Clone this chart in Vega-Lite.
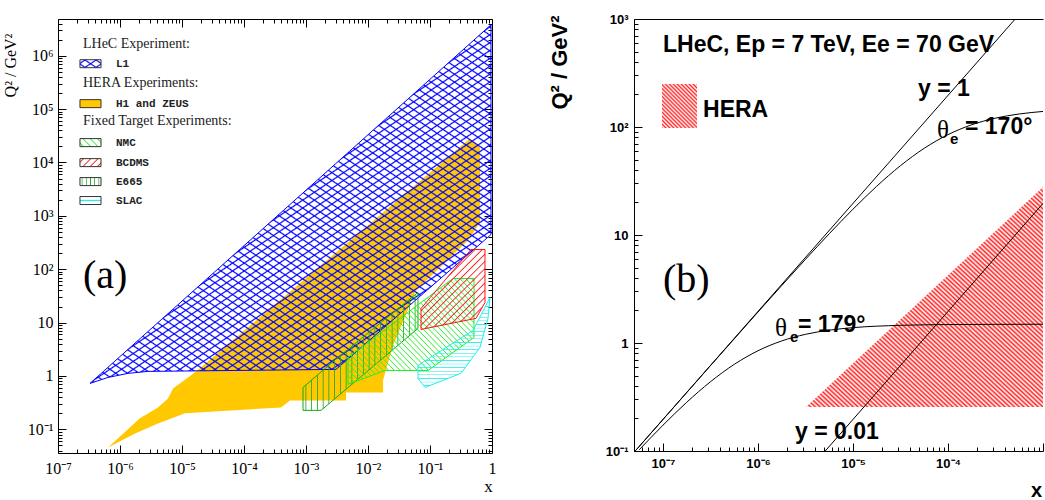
{
"$schema":"https://vega.github.io/schema/vega-lite/v6.json",
"background":"white",
"padding":{"left":2,"top":13,"right":0,"bottom":0},
"spacing":142,
"bounds":"flush",
"config":{"view":{"stroke":null},"axis":{"grid":false,"domainColor":"#000","tickColor":"#000","labelColor":"#000","titleColor":"#000","labelFlush":false,"labelOverlap":false,"labelBound":false,"tickWidth":1,"domainWidth":1}},
"datasets":{
"orange":[{"i":1,"x":0.4416,"q":28000},{"i":2,"x":0.64,"q":19000},{"i":3,"x":0.64,"q":748},{"i":4,"x":0.41,"q":345},{"i":5,"x":0.0594,"q":40},{"i":6,"x":0.0253,"q":3.73},{"i":7,"x":0.0175,"q":0.83},{"i":8,"x":0.0175,"q":0.493},{"i":9,"x":0.00442,"q":0.493},{"i":10,"x":0.00442,"q":0.349},{"i":11,"x":0.000552,"q":0.349},{"i":12,"x":0.000395,"q":0.258},{"i":13,"x":1.12e-5,"q":0.2},{"i":14,"x":4.1e-6,"q":0.129},{"i":15,"x":1.75e-6,"q":0.084},{"i":16,"x":6.4e-7,"q":0.046},{"i":17,"x":2.1e-6,"q":0.161},{"i":18,"x":4.1e-6,"q":0.258},{"i":19,"x":5.94e-6,"q":0.38},{"i":20,"x":7.16e-6,"q":0.586},{"i":21,"x":1.4e-5,"q":1.03},{"i":22,"x":2.02e-5,"q":1.45}],
"l1":[{"i":1,"x":3.28e-7,"q":0.726},{"i":2,"x":6.4e-7,"q":0.94},{"i":3,"x":1.35e-6,"q":1.12},{"i":4,"x":2.83e-6,"q":1.22},{"i":5,"x":0.00305,"q":1.33},{"i":6,"x":0.964,"q":447},{"i":7,"x":0.964,"q":3800000}],
"e665":[{"i":1,"x":0.000895,"q":0.611},{"i":2,"x":0.00328,"q":2.23},{"i":3,"x":0.064,"q":36.7},{"i":4,"x":0.064,"q":7.78},{"i":5,"x":0.00175,"q":0.227},{"i":6,"x":0.000895,"q":0.227}],
"nmc":[{"i":1,"x":0.00475,"q":2.23},{"i":2,"x":0.235,"q":67},{"i":3,"x":0.513,"q":67},{"i":4,"x":0.513,"q":5.27},{"i":5,"x":0.0929,"q":1.27},{"i":6,"x":0.0188,"q":1.27},{"i":7,"x":0.00475,"q":0.695}],
"bcdms":[{"i":1,"x":0.0716,"q":18.4},{"i":2,"x":0.458,"q":234},{"i":3,"x":0.771,"q":234},{"i":4,"x":0.771,"q":23.8},{"i":5,"x":0.552,"q":12},{"i":6,"x":0.262,"q":10.1},{"i":7,"x":0.0716,"q":7.45}],
"slac":[{"i":1,"x":0.064,"q":1.58},{"i":2,"x":0.135,"q":2.76},{"i":3,"x":0.494,"q":7.13},{"i":4,"x":0.929,"q":29.6},{"i":5,"x":0.861,"q":12},{"i":6,"x":0.64,"q":3.43},{"i":7,"x":0.316,"q":1.12},{"i":8,"x":0.083,"q":0.611},{"i":9,"x":0.064,"q":0.9}],
"hera":[{"i":1,"x":3.2e-6,"q":0.2555},{"i":2,"x":0.001,"q":27.8},{"i":3,"x":0.001,"q":0.2555}],
"curves":[{"c":"y1","x":5.1e-8,"q":0.1},{"c":"y1","x":0.00051,"q":1000},
{"c":"t170","x":5.25e-8,"q":0.1028},{"c":"t170","x":1e-7,"q":0.1957},{"c":"t170","x":3.162e-7,"q":0.6172},{"c":"t170","x":1e-6,"q":1.935},{"c":"t170","x":1.778e-6,"q":3.406},{"c":"t170","x":3.162e-6,"q":5.952},{"c":"t170","x":5.623e-6,"q":10.27},{"c":"t170","x":1e-5,"q":17.34},{"c":"t170","x":1.778e-5,"q":28.28},{"c":"t170","x":3.162e-5,"q":43.86},{"c":"t170","x":5.623e-5,"q":63.53},{"c":"t170","x":1e-4,"q":84.97},{"c":"t170","x":1.778e-4,"q":104.9},{"c":"t170","x":3.162e-4,"q":120.8},{"c":"t170","x":5.623e-4,"q":132},{"c":"t170","x":0.001,"q":139.3},
{"c":"t179","x":5.623e-8,"q":0.1026},{"c":"t179","x":1e-7,"q":0.1733},{"c":"t179","x":1.778e-7,"q":0.2825},{"c":"t179","x":3.162e-7,"q":0.438},{"c":"t179","x":5.623e-7,"q":0.634},{"c":"t179","x":1e-6,"q":0.8474},{"c":"t179","x":1.778e-6,"q":1.0451},{"c":"t179","x":3.162e-6,"q":1.203},{"c":"t179","x":5.623e-6,"q":1.3146},{"c":"t179","x":1e-5,"q":1.3871},{"c":"t179","x":3.162e-5,"q":1.4576},{"c":"t179","x":1e-4,"q":1.4814},{"c":"t179","x":3.162e-4,"q":1.4891},{"c":"t179","x":0.001,"q":1.4916},
{"c":"y001","x":5.1e-6,"q":0.1},{"c":"y001","x":0.001,"q":19.6}]
},
"hconcat":[
{
"width":434,"height":434,
"resolve":{"axis":{"x":"independent","y":"independent"}},
"layer":[
{"data":{"name":"orange"},"mark":{"type":"line","interpolate":"linear-closed","fill":"#ffc800","stroke":"transparent"},
"encoding":{
"x":{"field":"x","type":"quantitative","scale":{"type":"log","domain":[1e-7,1],"nice":false},
"axis":{"orient":"bottom","values":[1e-7,2e-7,3e-7,4e-7,5e-7,6e-7,7e-7,8e-7,9e-7,1e-6,2e-6,3e-6,4e-6,5e-6,6e-6,7e-6,8e-6,9e-6,1e-5,2e-5,3e-5,4e-5,5e-5,6e-5,7e-5,8e-5,9e-5,1e-4,2e-4,3e-4,4e-4,5e-4,6e-4,7e-4,8e-4,9e-4,0.001,0.002,0.003,0.004,0.005,0.006,0.007,0.008,0.009,0.01,0.02,0.03,0.04,0.05,0.06,0.07,0.08,0.09,0.1,0.2,0.3,0.4,0.5,0.6,0.7,0.8,0.9,1],
"labelExpr":"abs(log(datum.value)/LN10-round(log(datum.value)/LN10))<0.01 ? ['10⁻⁷','10⁻⁶','10⁻⁵','10⁻⁴','10⁻³','10⁻²','10⁻¹','1'][round(log(datum.value)/LN10)+7] : ''",
"tickSize":{"condition":{"test":"abs(log(datum.value)/LN10-round(log(datum.value)/LN10))<0.01","value":-8},"value":-4},
"labelPadding":15,"labelFont":"Liberation Serif","labelFontSize":16,"labelFontWeight":"normal",
"title":"x","titleFont":"Liberation Serif","titleFontSize":17,"titleFontWeight":"normal","titleX":430,"titleY":33,"titleAlign":"center","titleBaseline":"middle"}},
"y":{"field":"q","type":"quantitative","scale":{"type":"log","domain":[0.0361,4870000],"nice":false},
"axis":{"orient":"left","values":[0.04,0.05,0.06,0.07,0.08,0.09,0.1,0.2,0.3,0.4,0.5,0.6,0.7,0.8,0.9,1,2,3,4,5,6,7,8,9,10,20,30,40,50,60,70,80,90,100,200,300,400,500,600,700,800,900,1000,2000,3000,4000,5000,6000,7000,8000,9000,10000,20000,30000,40000,50000,60000,70000,80000,90000,100000,200000,300000,400000,500000,600000,700000,800000,900000,1000000,2000000,3000000,4000000],
"labelExpr":"abs(log(datum.value)/LN10-round(log(datum.value)/LN10))<0.01 ? ['10⁻¹','1','10','10²','10³','10⁴','10⁵','10⁶'][round(log(datum.value)/LN10)+1] : ''",
"tickSize":{"condition":{"test":"abs(log(datum.value)/LN10-round(log(datum.value)/LN10))<0.01","value":-8},"value":-4},
"labelPadding":13,"labelFont":"Liberation Serif","labelFontSize":16,"labelFontWeight":"normal",
"title":"Q² / GeV²","titleFont":"Liberation Serif","titleFontSize":16,"titleFontWeight":"normal","titleX":-48,"titleY":46,"titleAngle":270,"titleAlign":"center","titleBaseline":"middle"}},
"order":{"field":"i"}}},
{"data":{"name":"l1"},"mark":{"type":"line","interpolate":"linear-closed","stroke":"transparent","fill":{"gradient":"linear","x1":0,"y1":1,"x2":0.843,"y2":-0.12,"stops":[
{"offset":0.004,"color":"#00f0"},{"offset":0.00625,"color":"#00f"},{"offset":0.0085,"color":"#00f0"},{"offset":0.0165,"color":"#00f0"},{"offset":0.01875,"color":"#00f"},{"offset":0.021,"color":"#00f0"},{"offset":0.029,"color":"#00f0"},{"offset":0.03125,"color":"#00f"},{"offset":0.0335,"color":"#00f0"},{"offset":0.0415,"color":"#00f0"},{"offset":0.04375,"color":"#00f"},{"offset":0.046,"color":"#00f0"},{"offset":0.054,"color":"#00f0"},{"offset":0.05625,"color":"#00f"},{"offset":0.0585,"color":"#00f0"},{"offset":0.0665,"color":"#00f0"},{"offset":0.06875,"color":"#00f"},{"offset":0.071,"color":"#00f0"},{"offset":0.079,"color":"#00f0"},{"offset":0.08125,"color":"#00f"},{"offset":0.0835,"color":"#00f0"},{"offset":0.0915,"color":"#00f0"},{"offset":0.09375,"color":"#00f"},{"offset":0.096,"color":"#00f0"},
{"offset":0.104,"color":"#00f0"},{"offset":0.10625,"color":"#00f"},{"offset":0.1085,"color":"#00f0"},{"offset":0.1165,"color":"#00f0"},{"offset":0.11875,"color":"#00f"},{"offset":0.121,"color":"#00f0"},{"offset":0.129,"color":"#00f0"},{"offset":0.13125,"color":"#00f"},{"offset":0.1335,"color":"#00f0"},{"offset":0.1415,"color":"#00f0"},{"offset":0.14375,"color":"#00f"},{"offset":0.146,"color":"#00f0"},{"offset":0.154,"color":"#00f0"},{"offset":0.15625,"color":"#00f"},{"offset":0.1585,"color":"#00f0"},{"offset":0.1665,"color":"#00f0"},{"offset":0.16875,"color":"#00f"},{"offset":0.171,"color":"#00f0"},{"offset":0.179,"color":"#00f0"},{"offset":0.18125,"color":"#00f"},{"offset":0.1835,"color":"#00f0"},{"offset":0.1915,"color":"#00f0"},{"offset":0.19375,"color":"#00f"},{"offset":0.196,"color":"#00f0"},
{"offset":0.204,"color":"#00f0"},{"offset":0.20625,"color":"#00f"},{"offset":0.2085,"color":"#00f0"},{"offset":0.2165,"color":"#00f0"},{"offset":0.21875,"color":"#00f"},{"offset":0.221,"color":"#00f0"},{"offset":0.229,"color":"#00f0"},{"offset":0.23125,"color":"#00f"},{"offset":0.2335,"color":"#00f0"},{"offset":0.2415,"color":"#00f0"},{"offset":0.24375,"color":"#00f"},{"offset":0.246,"color":"#00f0"},{"offset":0.254,"color":"#00f0"},{"offset":0.25625,"color":"#00f"},{"offset":0.2585,"color":"#00f0"},{"offset":0.2665,"color":"#00f0"},{"offset":0.26875,"color":"#00f"},{"offset":0.271,"color":"#00f0"},{"offset":0.279,"color":"#00f0"},{"offset":0.28125,"color":"#00f"},{"offset":0.2835,"color":"#00f0"},{"offset":0.2915,"color":"#00f0"},{"offset":0.29375,"color":"#00f"},{"offset":0.296,"color":"#00f0"},
{"offset":0.304,"color":"#00f0"},{"offset":0.30625,"color":"#00f"},{"offset":0.3085,"color":"#00f0"},{"offset":0.3165,"color":"#00f0"},{"offset":0.31875,"color":"#00f"},{"offset":0.321,"color":"#00f0"},{"offset":0.329,"color":"#00f0"},{"offset":0.33125,"color":"#00f"},{"offset":0.3335,"color":"#00f0"},{"offset":0.3415,"color":"#00f0"},{"offset":0.34375,"color":"#00f"},{"offset":0.346,"color":"#00f0"},{"offset":0.354,"color":"#00f0"},{"offset":0.35625,"color":"#00f"},{"offset":0.3585,"color":"#00f0"},{"offset":0.3665,"color":"#00f0"},{"offset":0.36875,"color":"#00f"},{"offset":0.371,"color":"#00f0"},{"offset":0.379,"color":"#00f0"},{"offset":0.38125,"color":"#00f"},{"offset":0.3835,"color":"#00f0"},{"offset":0.3915,"color":"#00f0"},{"offset":0.39375,"color":"#00f"},{"offset":0.396,"color":"#00f0"},
{"offset":0.404,"color":"#00f0"},{"offset":0.40625,"color":"#00f"},{"offset":0.4085,"color":"#00f0"},{"offset":0.4165,"color":"#00f0"},{"offset":0.41875,"color":"#00f"},{"offset":0.421,"color":"#00f0"},{"offset":0.429,"color":"#00f0"},{"offset":0.43125,"color":"#00f"},{"offset":0.4335,"color":"#00f0"},{"offset":0.4415,"color":"#00f0"},{"offset":0.44375,"color":"#00f"},{"offset":0.446,"color":"#00f0"},{"offset":0.454,"color":"#00f0"},{"offset":0.45625,"color":"#00f"},{"offset":0.4585,"color":"#00f0"},{"offset":0.4665,"color":"#00f0"},{"offset":0.46875,"color":"#00f"},{"offset":0.471,"color":"#00f0"},{"offset":0.479,"color":"#00f0"},{"offset":0.48125,"color":"#00f"},{"offset":0.4835,"color":"#00f0"},{"offset":0.4915,"color":"#00f0"},{"offset":0.49375,"color":"#00f"},{"offset":0.496,"color":"#00f0"},
{"offset":0.504,"color":"#00f0"},{"offset":0.50625,"color":"#00f"},{"offset":0.5085,"color":"#00f0"},{"offset":0.5165,"color":"#00f0"},{"offset":0.51875,"color":"#00f"},{"offset":0.521,"color":"#00f0"},{"offset":0.529,"color":"#00f0"},{"offset":0.53125,"color":"#00f"},{"offset":0.5335,"color":"#00f0"},{"offset":0.5415,"color":"#00f0"},{"offset":0.54375,"color":"#00f"},{"offset":0.546,"color":"#00f0"},{"offset":0.554,"color":"#00f0"},{"offset":0.55625,"color":"#00f"},{"offset":0.5585,"color":"#00f0"},{"offset":0.5665,"color":"#00f0"},{"offset":0.56875,"color":"#00f"},{"offset":0.571,"color":"#00f0"},{"offset":0.579,"color":"#00f0"},{"offset":0.58125,"color":"#00f"},{"offset":0.5835,"color":"#00f0"},{"offset":0.5915,"color":"#00f0"},{"offset":0.59375,"color":"#00f"},{"offset":0.596,"color":"#00f0"},
{"offset":0.604,"color":"#00f0"},{"offset":0.60625,"color":"#00f"},{"offset":0.6085,"color":"#00f0"},{"offset":0.6165,"color":"#00f0"},{"offset":0.61875,"color":"#00f"},{"offset":0.621,"color":"#00f0"},{"offset":0.629,"color":"#00f0"},{"offset":0.63125,"color":"#00f"},{"offset":0.6335,"color":"#00f0"},{"offset":0.6415,"color":"#00f0"},{"offset":0.64375,"color":"#00f"},{"offset":0.646,"color":"#00f0"},{"offset":0.654,"color":"#00f0"},{"offset":0.65625,"color":"#00f"},{"offset":0.6585,"color":"#00f0"},{"offset":0.6665,"color":"#00f0"},{"offset":0.66875,"color":"#00f"},{"offset":0.671,"color":"#00f0"},{"offset":0.679,"color":"#00f0"},{"offset":0.68125,"color":"#00f"},{"offset":0.6835,"color":"#00f0"},{"offset":0.6915,"color":"#00f0"},{"offset":0.69375,"color":"#00f"},{"offset":0.696,"color":"#00f0"},
{"offset":0.704,"color":"#00f0"},{"offset":0.70625,"color":"#00f"},{"offset":0.7085,"color":"#00f0"},{"offset":0.7165,"color":"#00f0"},{"offset":0.71875,"color":"#00f"},{"offset":0.721,"color":"#00f0"},{"offset":0.729,"color":"#00f0"},{"offset":0.73125,"color":"#00f"},{"offset":0.7335,"color":"#00f0"},{"offset":0.7415,"color":"#00f0"},{"offset":0.74375,"color":"#00f"},{"offset":0.746,"color":"#00f0"},{"offset":0.754,"color":"#00f0"},{"offset":0.75625,"color":"#00f"},{"offset":0.7585,"color":"#00f0"},{"offset":0.7665,"color":"#00f0"},{"offset":0.76875,"color":"#00f"},{"offset":0.771,"color":"#00f0"},{"offset":0.779,"color":"#00f0"},{"offset":0.78125,"color":"#00f"},{"offset":0.7835,"color":"#00f0"},{"offset":0.7915,"color":"#00f0"},{"offset":0.79375,"color":"#00f"},{"offset":0.796,"color":"#00f0"},
{"offset":0.804,"color":"#00f0"},{"offset":0.80625,"color":"#00f"},{"offset":0.8085,"color":"#00f0"},{"offset":0.8165,"color":"#00f0"},{"offset":0.81875,"color":"#00f"},{"offset":0.821,"color":"#00f0"},{"offset":0.829,"color":"#00f0"},{"offset":0.83125,"color":"#00f"},{"offset":0.8335,"color":"#00f0"},{"offset":0.8415,"color":"#00f0"},{"offset":0.84375,"color":"#00f"},{"offset":0.846,"color":"#00f0"},{"offset":0.854,"color":"#00f0"},{"offset":0.85625,"color":"#00f"},{"offset":0.8585,"color":"#00f0"},{"offset":0.8665,"color":"#00f0"},{"offset":0.86875,"color":"#00f"},{"offset":0.871,"color":"#00f0"},{"offset":0.879,"color":"#00f0"},{"offset":0.88125,"color":"#00f"},{"offset":0.8835,"color":"#00f0"},{"offset":0.8915,"color":"#00f0"},{"offset":0.89375,"color":"#00f"},{"offset":0.896,"color":"#00f0"},
{"offset":0.904,"color":"#00f0"},{"offset":0.90625,"color":"#00f"},{"offset":0.9085,"color":"#00f0"},{"offset":0.9165,"color":"#00f0"},{"offset":0.91875,"color":"#00f"},{"offset":0.921,"color":"#00f0"},{"offset":0.929,"color":"#00f0"},{"offset":0.93125,"color":"#00f"},{"offset":0.9335,"color":"#00f0"},{"offset":0.9415,"color":"#00f0"},{"offset":0.94375,"color":"#00f"},{"offset":0.946,"color":"#00f0"},{"offset":0.954,"color":"#00f0"},{"offset":0.95625,"color":"#00f"},{"offset":0.9585,"color":"#00f0"},{"offset":0.9665,"color":"#00f0"},{"offset":0.96875,"color":"#00f"},{"offset":0.971,"color":"#00f0"},{"offset":0.979,"color":"#00f0"},{"offset":0.98125,"color":"#00f"},{"offset":0.9835,"color":"#00f0"},{"offset":0.9915,"color":"#00f0"},{"offset":0.99375,"color":"#00f"},{"offset":0.996,"color":"#00f0"}]}},
"encoding":{"x":{"field":"x","type":"quantitative","axis":null},"y":{"field":"q","type":"quantitative","axis":null},"order":{"field":"i"}}},
{"data":{"name":"l1"},"mark":{"type":"line","interpolate":"linear-closed","stroke":"#00f","strokeWidth":1,"fill":{"gradient":"linear","x1":0,"y1":0,"x2":0.843,"y2":1.12,"stops":[
{"offset":0.004,"color":"#00f0"},{"offset":0.00625,"color":"#00f"},{"offset":0.0085,"color":"#00f0"},{"offset":0.0165,"color":"#00f0"},{"offset":0.01875,"color":"#00f"},{"offset":0.021,"color":"#00f0"},{"offset":0.029,"color":"#00f0"},{"offset":0.03125,"color":"#00f"},{"offset":0.0335,"color":"#00f0"},{"offset":0.0415,"color":"#00f0"},{"offset":0.04375,"color":"#00f"},{"offset":0.046,"color":"#00f0"},{"offset":0.054,"color":"#00f0"},{"offset":0.05625,"color":"#00f"},{"offset":0.0585,"color":"#00f0"},{"offset":0.0665,"color":"#00f0"},{"offset":0.06875,"color":"#00f"},{"offset":0.071,"color":"#00f0"},{"offset":0.079,"color":"#00f0"},{"offset":0.08125,"color":"#00f"},{"offset":0.0835,"color":"#00f0"},{"offset":0.0915,"color":"#00f0"},{"offset":0.09375,"color":"#00f"},{"offset":0.096,"color":"#00f0"},
{"offset":0.104,"color":"#00f0"},{"offset":0.10625,"color":"#00f"},{"offset":0.1085,"color":"#00f0"},{"offset":0.1165,"color":"#00f0"},{"offset":0.11875,"color":"#00f"},{"offset":0.121,"color":"#00f0"},{"offset":0.129,"color":"#00f0"},{"offset":0.13125,"color":"#00f"},{"offset":0.1335,"color":"#00f0"},{"offset":0.1415,"color":"#00f0"},{"offset":0.14375,"color":"#00f"},{"offset":0.146,"color":"#00f0"},{"offset":0.154,"color":"#00f0"},{"offset":0.15625,"color":"#00f"},{"offset":0.1585,"color":"#00f0"},{"offset":0.1665,"color":"#00f0"},{"offset":0.16875,"color":"#00f"},{"offset":0.171,"color":"#00f0"},{"offset":0.179,"color":"#00f0"},{"offset":0.18125,"color":"#00f"},{"offset":0.1835,"color":"#00f0"},{"offset":0.1915,"color":"#00f0"},{"offset":0.19375,"color":"#00f"},{"offset":0.196,"color":"#00f0"},
{"offset":0.204,"color":"#00f0"},{"offset":0.20625,"color":"#00f"},{"offset":0.2085,"color":"#00f0"},{"offset":0.2165,"color":"#00f0"},{"offset":0.21875,"color":"#00f"},{"offset":0.221,"color":"#00f0"},{"offset":0.229,"color":"#00f0"},{"offset":0.23125,"color":"#00f"},{"offset":0.2335,"color":"#00f0"},{"offset":0.2415,"color":"#00f0"},{"offset":0.24375,"color":"#00f"},{"offset":0.246,"color":"#00f0"},{"offset":0.254,"color":"#00f0"},{"offset":0.25625,"color":"#00f"},{"offset":0.2585,"color":"#00f0"},{"offset":0.2665,"color":"#00f0"},{"offset":0.26875,"color":"#00f"},{"offset":0.271,"color":"#00f0"},{"offset":0.279,"color":"#00f0"},{"offset":0.28125,"color":"#00f"},{"offset":0.2835,"color":"#00f0"},{"offset":0.2915,"color":"#00f0"},{"offset":0.29375,"color":"#00f"},{"offset":0.296,"color":"#00f0"},
{"offset":0.304,"color":"#00f0"},{"offset":0.30625,"color":"#00f"},{"offset":0.3085,"color":"#00f0"},{"offset":0.3165,"color":"#00f0"},{"offset":0.31875,"color":"#00f"},{"offset":0.321,"color":"#00f0"},{"offset":0.329,"color":"#00f0"},{"offset":0.33125,"color":"#00f"},{"offset":0.3335,"color":"#00f0"},{"offset":0.3415,"color":"#00f0"},{"offset":0.34375,"color":"#00f"},{"offset":0.346,"color":"#00f0"},{"offset":0.354,"color":"#00f0"},{"offset":0.35625,"color":"#00f"},{"offset":0.3585,"color":"#00f0"},{"offset":0.3665,"color":"#00f0"},{"offset":0.36875,"color":"#00f"},{"offset":0.371,"color":"#00f0"},{"offset":0.379,"color":"#00f0"},{"offset":0.38125,"color":"#00f"},{"offset":0.3835,"color":"#00f0"},{"offset":0.3915,"color":"#00f0"},{"offset":0.39375,"color":"#00f"},{"offset":0.396,"color":"#00f0"},
{"offset":0.404,"color":"#00f0"},{"offset":0.40625,"color":"#00f"},{"offset":0.4085,"color":"#00f0"},{"offset":0.4165,"color":"#00f0"},{"offset":0.41875,"color":"#00f"},{"offset":0.421,"color":"#00f0"},{"offset":0.429,"color":"#00f0"},{"offset":0.43125,"color":"#00f"},{"offset":0.4335,"color":"#00f0"},{"offset":0.4415,"color":"#00f0"},{"offset":0.44375,"color":"#00f"},{"offset":0.446,"color":"#00f0"},{"offset":0.454,"color":"#00f0"},{"offset":0.45625,"color":"#00f"},{"offset":0.4585,"color":"#00f0"},{"offset":0.4665,"color":"#00f0"},{"offset":0.46875,"color":"#00f"},{"offset":0.471,"color":"#00f0"},{"offset":0.479,"color":"#00f0"},{"offset":0.48125,"color":"#00f"},{"offset":0.4835,"color":"#00f0"},{"offset":0.4915,"color":"#00f0"},{"offset":0.49375,"color":"#00f"},{"offset":0.496,"color":"#00f0"},
{"offset":0.504,"color":"#00f0"},{"offset":0.50625,"color":"#00f"},{"offset":0.5085,"color":"#00f0"},{"offset":0.5165,"color":"#00f0"},{"offset":0.51875,"color":"#00f"},{"offset":0.521,"color":"#00f0"},{"offset":0.529,"color":"#00f0"},{"offset":0.53125,"color":"#00f"},{"offset":0.5335,"color":"#00f0"},{"offset":0.5415,"color":"#00f0"},{"offset":0.54375,"color":"#00f"},{"offset":0.546,"color":"#00f0"},{"offset":0.554,"color":"#00f0"},{"offset":0.55625,"color":"#00f"},{"offset":0.5585,"color":"#00f0"},{"offset":0.5665,"color":"#00f0"},{"offset":0.56875,"color":"#00f"},{"offset":0.571,"color":"#00f0"},{"offset":0.579,"color":"#00f0"},{"offset":0.58125,"color":"#00f"},{"offset":0.5835,"color":"#00f0"},{"offset":0.5915,"color":"#00f0"},{"offset":0.59375,"color":"#00f"},{"offset":0.596,"color":"#00f0"},
{"offset":0.604,"color":"#00f0"},{"offset":0.60625,"color":"#00f"},{"offset":0.6085,"color":"#00f0"},{"offset":0.6165,"color":"#00f0"},{"offset":0.61875,"color":"#00f"},{"offset":0.621,"color":"#00f0"},{"offset":0.629,"color":"#00f0"},{"offset":0.63125,"color":"#00f"},{"offset":0.6335,"color":"#00f0"},{"offset":0.6415,"color":"#00f0"},{"offset":0.64375,"color":"#00f"},{"offset":0.646,"color":"#00f0"},{"offset":0.654,"color":"#00f0"},{"offset":0.65625,"color":"#00f"},{"offset":0.6585,"color":"#00f0"},{"offset":0.6665,"color":"#00f0"},{"offset":0.66875,"color":"#00f"},{"offset":0.671,"color":"#00f0"},{"offset":0.679,"color":"#00f0"},{"offset":0.68125,"color":"#00f"},{"offset":0.6835,"color":"#00f0"},{"offset":0.6915,"color":"#00f0"},{"offset":0.69375,"color":"#00f"},{"offset":0.696,"color":"#00f0"},
{"offset":0.704,"color":"#00f0"},{"offset":0.70625,"color":"#00f"},{"offset":0.7085,"color":"#00f0"},{"offset":0.7165,"color":"#00f0"},{"offset":0.71875,"color":"#00f"},{"offset":0.721,"color":"#00f0"},{"offset":0.729,"color":"#00f0"},{"offset":0.73125,"color":"#00f"},{"offset":0.7335,"color":"#00f0"},{"offset":0.7415,"color":"#00f0"},{"offset":0.74375,"color":"#00f"},{"offset":0.746,"color":"#00f0"},{"offset":0.754,"color":"#00f0"},{"offset":0.75625,"color":"#00f"},{"offset":0.7585,"color":"#00f0"},{"offset":0.7665,"color":"#00f0"},{"offset":0.76875,"color":"#00f"},{"offset":0.771,"color":"#00f0"},{"offset":0.779,"color":"#00f0"},{"offset":0.78125,"color":"#00f"},{"offset":0.7835,"color":"#00f0"},{"offset":0.7915,"color":"#00f0"},{"offset":0.79375,"color":"#00f"},{"offset":0.796,"color":"#00f0"},
{"offset":0.804,"color":"#00f0"},{"offset":0.80625,"color":"#00f"},{"offset":0.8085,"color":"#00f0"},{"offset":0.8165,"color":"#00f0"},{"offset":0.81875,"color":"#00f"},{"offset":0.821,"color":"#00f0"},{"offset":0.829,"color":"#00f0"},{"offset":0.83125,"color":"#00f"},{"offset":0.8335,"color":"#00f0"},{"offset":0.8415,"color":"#00f0"},{"offset":0.84375,"color":"#00f"},{"offset":0.846,"color":"#00f0"},{"offset":0.854,"color":"#00f0"},{"offset":0.85625,"color":"#00f"},{"offset":0.8585,"color":"#00f0"},{"offset":0.8665,"color":"#00f0"},{"offset":0.86875,"color":"#00f"},{"offset":0.871,"color":"#00f0"},{"offset":0.879,"color":"#00f0"},{"offset":0.88125,"color":"#00f"},{"offset":0.8835,"color":"#00f0"},{"offset":0.8915,"color":"#00f0"},{"offset":0.89375,"color":"#00f"},{"offset":0.896,"color":"#00f0"},
{"offset":0.904,"color":"#00f0"},{"offset":0.90625,"color":"#00f"},{"offset":0.9085,"color":"#00f0"},{"offset":0.9165,"color":"#00f0"},{"offset":0.91875,"color":"#00f"},{"offset":0.921,"color":"#00f0"},{"offset":0.929,"color":"#00f0"},{"offset":0.93125,"color":"#00f"},{"offset":0.9335,"color":"#00f0"},{"offset":0.9415,"color":"#00f0"},{"offset":0.94375,"color":"#00f"},{"offset":0.946,"color":"#00f0"},{"offset":0.954,"color":"#00f0"},{"offset":0.95625,"color":"#00f"},{"offset":0.9585,"color":"#00f0"},{"offset":0.9665,"color":"#00f0"},{"offset":0.96875,"color":"#00f"},{"offset":0.971,"color":"#00f0"},{"offset":0.979,"color":"#00f0"},{"offset":0.98125,"color":"#00f"},{"offset":0.9835,"color":"#00f0"},{"offset":0.9915,"color":"#00f0"},{"offset":0.99375,"color":"#00f"},{"offset":0.996,"color":"#00f0"}]}},
"encoding":{"x":{"field":"x","type":"quantitative","axis":{"orient":"top","values":[1e-7,2e-7,3e-7,4e-7,5e-7,6e-7,7e-7,8e-7,9e-7,1e-6,2e-6,3e-6,4e-6,5e-6,6e-6,7e-6,8e-6,9e-6,1e-5,2e-5,3e-5,4e-5,5e-5,6e-5,7e-5,8e-5,9e-5,1e-4,2e-4,3e-4,4e-4,5e-4,6e-4,7e-4,8e-4,9e-4,0.001,0.002,0.003,0.004,0.005,0.006,0.007,0.008,0.009,0.01,0.02,0.03,0.04,0.05,0.06,0.07,0.08,0.09,0.1,0.2,0.3,0.4,0.5,0.6,0.7,0.8,0.9,1],"labels":false,"title":null,"tickSize":{"condition":{"test":"abs(log(datum.value)/LN10-round(log(datum.value)/LN10))<0.01","value":-8},"value":-4}}},
"y":{"field":"q","type":"quantitative","axis":{"orient":"right","values":[0.04,0.05,0.06,0.07,0.08,0.09,0.1,0.2,0.3,0.4,0.5,0.6,0.7,0.8,0.9,1,2,3,4,5,6,7,8,9,10,20,30,40,50,60,70,80,90,100,200,300,400,500,600,700,800,900,1000,2000,3000,4000,5000,6000,7000,8000,9000,10000,20000,30000,40000,50000,60000,70000,80000,90000,100000,200000,300000,400000,500000,600000,700000,800000,900000,1000000,2000000,3000000,4000000],"labels":false,"title":null,"tickSize":{"condition":{"test":"abs(log(datum.value)/LN10-round(log(datum.value)/LN10))<0.01","value":-8},"value":-4}}},
"order":{"field":"i"}}},
{"data":{"name":"e665"},"mark":{"type":"line","interpolate":"linear-closed","stroke":"#1a1","strokeWidth":1,"fill":{"gradient":"linear","x1":0,"y1":0,"x2":1,"y2":0,"stops":[
{"offset":0.0175,"color":"#2a20"},{"offset":0.025,"color":"#2a2"},{"offset":0.0325,"color":"#2a20"},{"offset":0.0675,"color":"#2a20"},{"offset":0.075,"color":"#2a2"},{"offset":0.0825,"color":"#2a20"},{"offset":0.1175,"color":"#2a20"},{"offset":0.125,"color":"#2a2"},{"offset":0.1325,"color":"#2a20"},{"offset":0.1675,"color":"#2a20"},{"offset":0.175,"color":"#2a2"},{"offset":0.1825,"color":"#2a20"},{"offset":0.2175,"color":"#2a20"},{"offset":0.225,"color":"#2a2"},{"offset":0.2325,"color":"#2a20"},{"offset":0.2675,"color":"#2a20"},{"offset":0.275,"color":"#2a2"},{"offset":0.2825,"color":"#2a20"},{"offset":0.3175,"color":"#2a20"},{"offset":0.325,"color":"#2a2"},{"offset":0.3325,"color":"#2a20"},{"offset":0.3675,"color":"#2a20"},{"offset":0.375,"color":"#2a2"},{"offset":0.3825,"color":"#2a20"},{"offset":0.4175,"color":"#2a20"},{"offset":0.425,"color":"#2a2"},{"offset":0.4325,"color":"#2a20"},{"offset":0.4675,"color":"#2a20"},{"offset":0.475,"color":"#2a2"},{"offset":0.4825,"color":"#2a20"},{"offset":0.5175,"color":"#2a20"},{"offset":0.525,"color":"#2a2"},{"offset":0.5325,"color":"#2a20"},{"offset":0.5675,"color":"#2a20"},{"offset":0.575,"color":"#2a2"},{"offset":0.5825,"color":"#2a20"},{"offset":0.6175,"color":"#2a20"},{"offset":0.625,"color":"#2a2"},{"offset":0.6325,"color":"#2a20"},{"offset":0.6675,"color":"#2a20"},{"offset":0.675,"color":"#2a2"},{"offset":0.6825,"color":"#2a20"},{"offset":0.7175,"color":"#2a20"},{"offset":0.725,"color":"#2a2"},{"offset":0.7325,"color":"#2a20"},{"offset":0.7675,"color":"#2a20"},{"offset":0.775,"color":"#2a2"},{"offset":0.7825,"color":"#2a20"},{"offset":0.8175,"color":"#2a20"},{"offset":0.825,"color":"#2a2"},{"offset":0.8325,"color":"#2a20"},{"offset":0.8675,"color":"#2a20"},{"offset":0.875,"color":"#2a2"},{"offset":0.8825,"color":"#2a20"},{"offset":0.9175,"color":"#2a20"},{"offset":0.925,"color":"#2a2"},{"offset":0.9325,"color":"#2a20"},{"offset":0.9675,"color":"#2a20"},{"offset":0.975,"color":"#2a2"},{"offset":0.9825,"color":"#2a20"}]}},
"encoding":{"x":{"field":"x","type":"quantitative","axis":null},"y":{"field":"q","type":"quantitative","axis":null},"order":{"field":"i"}}},
{"data":{"name":"nmc"},"mark":{"type":"line","interpolate":"linear-closed","stroke":"#2e2","strokeWidth":1,"fill":{"gradient":"linear","x1":0,"y1":1,"x2":1.094,"y2":0.115,"stops":[
{"offset":0.008,"color":"#3e30"},{"offset":0.0125,"color":"#3e3"},{"offset":0.017,"color":"#3e30"},{"offset":0.033,"color":"#3e30"},{"offset":0.0375,"color":"#3e3"},{"offset":0.042,"color":"#3e30"},{"offset":0.058,"color":"#3e30"},{"offset":0.0625,"color":"#3e3"},{"offset":0.067,"color":"#3e30"},{"offset":0.083,"color":"#3e30"},{"offset":0.0875,"color":"#3e3"},{"offset":0.092,"color":"#3e30"},
{"offset":0.108,"color":"#3e30"},{"offset":0.1125,"color":"#3e3"},{"offset":0.117,"color":"#3e30"},{"offset":0.133,"color":"#3e30"},{"offset":0.1375,"color":"#3e3"},{"offset":0.142,"color":"#3e30"},{"offset":0.158,"color":"#3e30"},{"offset":0.1625,"color":"#3e3"},{"offset":0.167,"color":"#3e30"},{"offset":0.183,"color":"#3e30"},{"offset":0.1875,"color":"#3e3"},{"offset":0.192,"color":"#3e30"},
{"offset":0.208,"color":"#3e30"},{"offset":0.2125,"color":"#3e3"},{"offset":0.217,"color":"#3e30"},{"offset":0.233,"color":"#3e30"},{"offset":0.2375,"color":"#3e3"},{"offset":0.242,"color":"#3e30"},{"offset":0.258,"color":"#3e30"},{"offset":0.2625,"color":"#3e3"},{"offset":0.267,"color":"#3e30"},{"offset":0.283,"color":"#3e30"},{"offset":0.2875,"color":"#3e3"},{"offset":0.292,"color":"#3e30"},
{"offset":0.308,"color":"#3e30"},{"offset":0.3125,"color":"#3e3"},{"offset":0.317,"color":"#3e30"},{"offset":0.333,"color":"#3e30"},{"offset":0.3375,"color":"#3e3"},{"offset":0.342,"color":"#3e30"},{"offset":0.358,"color":"#3e30"},{"offset":0.3625,"color":"#3e3"},{"offset":0.367,"color":"#3e30"},{"offset":0.383,"color":"#3e30"},{"offset":0.3875,"color":"#3e3"},{"offset":0.392,"color":"#3e30"},
{"offset":0.408,"color":"#3e30"},{"offset":0.4125,"color":"#3e3"},{"offset":0.417,"color":"#3e30"},{"offset":0.433,"color":"#3e30"},{"offset":0.4375,"color":"#3e3"},{"offset":0.442,"color":"#3e30"},{"offset":0.458,"color":"#3e30"},{"offset":0.4625,"color":"#3e3"},{"offset":0.467,"color":"#3e30"},{"offset":0.483,"color":"#3e30"},{"offset":0.4875,"color":"#3e3"},{"offset":0.492,"color":"#3e30"},
{"offset":0.508,"color":"#3e30"},{"offset":0.5125,"color":"#3e3"},{"offset":0.517,"color":"#3e30"},{"offset":0.533,"color":"#3e30"},{"offset":0.5375,"color":"#3e3"},{"offset":0.542,"color":"#3e30"},{"offset":0.558,"color":"#3e30"},{"offset":0.5625,"color":"#3e3"},{"offset":0.567,"color":"#3e30"},{"offset":0.583,"color":"#3e30"},{"offset":0.5875,"color":"#3e3"},{"offset":0.592,"color":"#3e30"},
{"offset":0.608,"color":"#3e30"},{"offset":0.6125,"color":"#3e3"},{"offset":0.617,"color":"#3e30"},{"offset":0.633,"color":"#3e30"},{"offset":0.6375,"color":"#3e3"},{"offset":0.642,"color":"#3e30"},{"offset":0.658,"color":"#3e30"},{"offset":0.6625,"color":"#3e3"},{"offset":0.667,"color":"#3e30"},{"offset":0.683,"color":"#3e30"},{"offset":0.6875,"color":"#3e3"},{"offset":0.692,"color":"#3e30"},
{"offset":0.708,"color":"#3e30"},{"offset":0.7125,"color":"#3e3"},{"offset":0.717,"color":"#3e30"},{"offset":0.733,"color":"#3e30"},{"offset":0.7375,"color":"#3e3"},{"offset":0.742,"color":"#3e30"},{"offset":0.758,"color":"#3e30"},{"offset":0.7625,"color":"#3e3"},{"offset":0.767,"color":"#3e30"},{"offset":0.783,"color":"#3e30"},{"offset":0.7875,"color":"#3e3"},{"offset":0.792,"color":"#3e30"},
{"offset":0.808,"color":"#3e30"},{"offset":0.8125,"color":"#3e3"},{"offset":0.817,"color":"#3e30"},{"offset":0.833,"color":"#3e30"},{"offset":0.8375,"color":"#3e3"},{"offset":0.842,"color":"#3e30"},{"offset":0.858,"color":"#3e30"},{"offset":0.8625,"color":"#3e3"},{"offset":0.867,"color":"#3e30"},{"offset":0.883,"color":"#3e30"},{"offset":0.8875,"color":"#3e3"},{"offset":0.892,"color":"#3e30"},
{"offset":0.908,"color":"#3e30"},{"offset":0.9125,"color":"#3e3"},{"offset":0.917,"color":"#3e30"},{"offset":0.933,"color":"#3e30"},{"offset":0.9375,"color":"#3e3"},{"offset":0.942,"color":"#3e30"},{"offset":0.958,"color":"#3e30"},{"offset":0.9625,"color":"#3e3"},{"offset":0.967,"color":"#3e30"},{"offset":0.983,"color":"#3e30"},{"offset":0.9875,"color":"#3e3"},{"offset":0.992,"color":"#3e30"}]}},
"encoding":{"x":{"field":"x","type":"quantitative","axis":null},"y":{"field":"q","type":"quantitative","axis":null},"order":{"field":"i"}}},
{"data":{"name":"slac"},"mark":{"type":"line","interpolate":"linear-closed","stroke":"#2ee","strokeWidth":1,"fill":{"gradient":"linear","x1":0,"y1":0,"x2":0,"y2":1,"stops":[
{"offset":0.013,"color":"#2ee0"},{"offset":0.02,"color":"#2ee"},{"offset":0.027,"color":"#2ee0"},{"offset":0.053,"color":"#2ee0"},{"offset":0.06,"color":"#2ee"},{"offset":0.067,"color":"#2ee0"},{"offset":0.093,"color":"#2ee0"},{"offset":0.1,"color":"#2ee"},{"offset":0.107,"color":"#2ee0"},{"offset":0.133,"color":"#2ee0"},{"offset":0.14,"color":"#2ee"},{"offset":0.147,"color":"#2ee0"},{"offset":0.173,"color":"#2ee0"},{"offset":0.18,"color":"#2ee"},{"offset":0.187,"color":"#2ee0"},
{"offset":0.213,"color":"#2ee0"},{"offset":0.22,"color":"#2ee"},{"offset":0.227,"color":"#2ee0"},{"offset":0.253,"color":"#2ee0"},{"offset":0.26,"color":"#2ee"},{"offset":0.267,"color":"#2ee0"},{"offset":0.293,"color":"#2ee0"},{"offset":0.3,"color":"#2ee"},{"offset":0.307,"color":"#2ee0"},{"offset":0.333,"color":"#2ee0"},{"offset":0.34,"color":"#2ee"},{"offset":0.347,"color":"#2ee0"},{"offset":0.373,"color":"#2ee0"},{"offset":0.38,"color":"#2ee"},{"offset":0.387,"color":"#2ee0"},
{"offset":0.413,"color":"#2ee0"},{"offset":0.42,"color":"#2ee"},{"offset":0.427,"color":"#2ee0"},{"offset":0.453,"color":"#2ee0"},{"offset":0.46,"color":"#2ee"},{"offset":0.467,"color":"#2ee0"},{"offset":0.493,"color":"#2ee0"},{"offset":0.5,"color":"#2ee"},{"offset":0.507,"color":"#2ee0"},{"offset":0.533,"color":"#2ee0"},{"offset":0.54,"color":"#2ee"},{"offset":0.547,"color":"#2ee0"},{"offset":0.573,"color":"#2ee0"},{"offset":0.58,"color":"#2ee"},{"offset":0.587,"color":"#2ee0"},
{"offset":0.613,"color":"#2ee0"},{"offset":0.62,"color":"#2ee"},{"offset":0.627,"color":"#2ee0"},{"offset":0.653,"color":"#2ee0"},{"offset":0.66,"color":"#2ee"},{"offset":0.667,"color":"#2ee0"},{"offset":0.693,"color":"#2ee0"},{"offset":0.7,"color":"#2ee"},{"offset":0.707,"color":"#2ee0"},{"offset":0.733,"color":"#2ee0"},{"offset":0.74,"color":"#2ee"},{"offset":0.747,"color":"#2ee0"},{"offset":0.773,"color":"#2ee0"},{"offset":0.78,"color":"#2ee"},{"offset":0.787,"color":"#2ee0"},
{"offset":0.813,"color":"#2ee0"},{"offset":0.82,"color":"#2ee"},{"offset":0.827,"color":"#2ee0"},{"offset":0.853,"color":"#2ee0"},{"offset":0.86,"color":"#2ee"},{"offset":0.867,"color":"#2ee0"},{"offset":0.893,"color":"#2ee0"},{"offset":0.9,"color":"#2ee"},{"offset":0.907,"color":"#2ee0"},{"offset":0.933,"color":"#2ee0"},{"offset":0.94,"color":"#2ee"},{"offset":0.947,"color":"#2ee0"},{"offset":0.973,"color":"#2ee0"},{"offset":0.98,"color":"#2ee"},{"offset":0.987,"color":"#2ee0"}]}},
"encoding":{"x":{"field":"x","type":"quantitative","axis":null},"y":{"field":"q","type":"quantitative","axis":null},"order":{"field":"i"}}},
{"data":{"name":"bcdms"},"mark":{"type":"line","interpolate":"linear-closed","stroke":"#f11","strokeWidth":1,"fill":{"gradient":"linear","x1":0,"y1":0,"x2":0.88,"y2":1.1,"stops":[
{"offset":0.016,"color":"#f220"},{"offset":0.025,"color":"#f22"},{"offset":0.034,"color":"#f220"},{"offset":0.066,"color":"#f220"},{"offset":0.075,"color":"#f22"},{"offset":0.084,"color":"#f220"},{"offset":0.116,"color":"#f220"},{"offset":0.125,"color":"#f22"},{"offset":0.134,"color":"#f220"},{"offset":0.166,"color":"#f220"},{"offset":0.175,"color":"#f22"},{"offset":0.184,"color":"#f220"},{"offset":0.216,"color":"#f220"},{"offset":0.225,"color":"#f22"},{"offset":0.234,"color":"#f220"},{"offset":0.266,"color":"#f220"},{"offset":0.275,"color":"#f22"},{"offset":0.284,"color":"#f220"},{"offset":0.316,"color":"#f220"},{"offset":0.325,"color":"#f22"},{"offset":0.334,"color":"#f220"},{"offset":0.366,"color":"#f220"},{"offset":0.375,"color":"#f22"},{"offset":0.384,"color":"#f220"},{"offset":0.416,"color":"#f220"},{"offset":0.425,"color":"#f22"},{"offset":0.434,"color":"#f220"},{"offset":0.466,"color":"#f220"},{"offset":0.475,"color":"#f22"},{"offset":0.484,"color":"#f220"},{"offset":0.516,"color":"#f220"},{"offset":0.525,"color":"#f22"},{"offset":0.534,"color":"#f220"},{"offset":0.566,"color":"#f220"},{"offset":0.575,"color":"#f22"},{"offset":0.584,"color":"#f220"},{"offset":0.616,"color":"#f220"},{"offset":0.625,"color":"#f22"},{"offset":0.634,"color":"#f220"},{"offset":0.666,"color":"#f220"},{"offset":0.675,"color":"#f22"},{"offset":0.684,"color":"#f220"},{"offset":0.716,"color":"#f220"},{"offset":0.725,"color":"#f22"},{"offset":0.734,"color":"#f220"},{"offset":0.766,"color":"#f220"},{"offset":0.775,"color":"#f22"},{"offset":0.784,"color":"#f220"},{"offset":0.816,"color":"#f220"},{"offset":0.825,"color":"#f22"},{"offset":0.834,"color":"#f220"},{"offset":0.866,"color":"#f220"},{"offset":0.875,"color":"#f22"},{"offset":0.884,"color":"#f220"},{"offset":0.916,"color":"#f220"},{"offset":0.925,"color":"#f22"},{"offset":0.934,"color":"#f220"},{"offset":0.966,"color":"#f220"},{"offset":0.975,"color":"#f22"},{"offset":0.984,"color":"#f220"}]}},
"encoding":{"x":{"field":"x","type":"quantitative","axis":null},"y":{"field":"q","type":"quantitative","axis":null},"order":{"field":"i"}}},
{"data":{"values":[{}]},"mark":{"type":"rect","stroke":"transparent","fill":{"gradient":"linear","x1":0,"y1":1,"x2":1.19,"y2":0.328,"stops":[{"offset":0.107,"color":"#00f0"},{"offset":0.167,"color":"#00f"},{"offset":0.227,"color":"#00f0"},{"offset":0.44,"color":"#00f0"},{"offset":0.5,"color":"#00f"},{"offset":0.56,"color":"#00f0"},{"offset":0.773,"color":"#00f0"},{"offset":0.833,"color":"#00f"},{"offset":0.893,"color":"#00f0"}]}},
"encoding":{"x":{"datum":2.26e-7,"type":"quantitative","axis":null},"x2":{"datum":4.94e-7},"y":{"datum":841000,"type":"quantitative","axis":null},"y2":{"datum":596000}}},
{"data":{"values":[{}]},"mark":{"type":"rect","stroke":"#333","strokeWidth":1,"fill":{"gradient":"linear","x1":0,"y1":0,"x2":1.19,"y2":0.672,"stops":[{"offset":0.107,"color":"#00f0"},{"offset":0.167,"color":"#00f"},{"offset":0.227,"color":"#00f0"},{"offset":0.44,"color":"#00f0"},{"offset":0.5,"color":"#00f"},{"offset":0.56,"color":"#00f0"},{"offset":0.773,"color":"#00f0"},{"offset":0.833,"color":"#00f"},{"offset":0.893,"color":"#00f0"}]}},
"encoding":{"x":{"datum":2.26e-7,"type":"quantitative","axis":null},"x2":{"datum":4.94e-7},"y":{"datum":841000,"type":"quantitative","axis":null},"y2":{"datum":596000}}},
{"data":{"values":[{}]},"mark":{"type":"rect","stroke":"#333","strokeWidth":1,"fill":"#ffc800"},
"encoding":{"x":{"datum":2.26e-7,"type":"quantitative","axis":null},"x2":{"datum":4.94e-7},"y":{"datum":150200,"type":"quantitative","axis":null},"y2":{"datum":106400}}},
{"data":{"values":[{}]},"mark":{"type":"rect","stroke":"#333","strokeWidth":1,"fill":{"gradient":"linear","x1":0,"y1":1,"x2":1.206,"y2":0.542,"stops":[{"offset":0.08,"color":"#3e30"},{"offset":0.125,"color":"#3e3"},{"offset":0.17,"color":"#3e30"},{"offset":0.33,"color":"#3e30"},{"offset":0.375,"color":"#3e3"},{"offset":0.42,"color":"#3e30"},{"offset":0.58,"color":"#3e30"},{"offset":0.625,"color":"#3e3"},{"offset":0.67,"color":"#3e30"},{"offset":0.83,"color":"#3e30"},{"offset":0.875,"color":"#3e3"},{"offset":0.92,"color":"#3e30"}]}},
"encoding":{"x":{"datum":2.26e-7,"type":"quantitative","axis":null},"x2":{"datum":4.94e-7},"y":{"datum":28000,"type":"quantitative","axis":null},"y2":{"datum":19800}}},
{"data":{"values":[{}]},"mark":{"type":"rect","stroke":"#333","strokeWidth":1,"fill":{"gradient":"linear","x1":0,"y1":0,"x2":1.206,"y2":0.458,"stops":[{"offset":0.08,"color":"#f220"},{"offset":0.125,"color":"#f22"},{"offset":0.17,"color":"#f220"},{"offset":0.33,"color":"#f220"},{"offset":0.375,"color":"#f22"},{"offset":0.42,"color":"#f220"},{"offset":0.58,"color":"#f220"},{"offset":0.625,"color":"#f22"},{"offset":0.67,"color":"#f220"},{"offset":0.83,"color":"#f220"},{"offset":0.875,"color":"#f22"},{"offset":0.92,"color":"#f220"}]}},
"encoding":{"x":{"datum":2.26e-7,"type":"quantitative","axis":null},"x2":{"datum":4.94e-7},"y":{"datum":11800,"type":"quantitative","axis":null},"y2":{"datum":8360}}},
{"data":{"values":[{}]},"mark":{"type":"rect","stroke":"#333","strokeWidth":1,"fill":{"gradient":"linear","x1":0,"y1":0,"x2":1,"y2":0,"stops":[{"offset":0.064,"color":"#2a20"},{"offset":0.1,"color":"#2a2"},{"offset":0.136,"color":"#2a20"},{"offset":0.264,"color":"#2a20"},{"offset":0.3,"color":"#2a2"},{"offset":0.336,"color":"#2a20"},{"offset":0.464,"color":"#2a20"},{"offset":0.5,"color":"#2a2"},{"offset":0.536,"color":"#2a20"},{"offset":0.664,"color":"#2a20"},{"offset":0.7,"color":"#2a2"},{"offset":0.736,"color":"#2a20"},{"offset":0.864,"color":"#2a20"},{"offset":0.9,"color":"#2a2"},{"offset":0.936,"color":"#2a20"}]}},
"encoding":{"x":{"datum":2.26e-7,"type":"quantitative","axis":null},"x2":{"datum":4.94e-7},"y":{"datum":5210,"type":"quantitative","axis":null},"y2":{"datum":3690}}},
{"data":{"values":[{}]},"mark":{"type":"rect","stroke":"#333","strokeWidth":1,"fill":{"gradient":"linear","x1":0,"y1":0,"x2":0,"y2":1,"stops":[{"offset":0.35,"color":"#2ee0"},{"offset":0.5,"color":"#2ee"},{"offset":0.65,"color":"#2ee0"}]}},
"encoding":{"x":{"datum":2.26e-7,"type":"quantitative","axis":null},"x2":{"datum":4.94e-7},"y":{"datum":2300,"type":"quantitative","axis":null},"y2":{"datum":1630}}},
{"data":{"values":[{}]},"mark":{"type":"text","text":"LHeC Experiment:","font":"Liberation Serif","fontSize":14,"align":"left","baseline":"middle","color":"#222"},"encoding":{"x":{"datum":2.53e-7,"type":"quantitative","axis":null},"y":{"datum":1680000,"type":"quantitative","axis":null}}},
{"data":{"values":[{}]},"mark":{"type":"text","text":"HERA Experiments:","font":"Liberation Serif","fontSize":14,"align":"left","baseline":"middle","color":"#222"},"encoding":{"x":{"datum":2.53e-7,"type":"quantitative","axis":null},"y":{"datum":312000,"type":"quantitative","axis":null}}},
{"data":{"values":[{}]},"mark":{"type":"text","text":"Fixed Target Experiments:","font":"Liberation Serif","fontSize":14,"align":"left","baseline":"middle","color":"#222"},"encoding":{"x":{"datum":2.53e-7,"type":"quantitative","axis":null},"y":{"datum":60700,"type":"quantitative","axis":null}}},
{"data":{"values":[{}]},"mark":{"type":"text","text":"L1","font":"Liberation Mono","fontWeight":"bold","fontSize":11,"align":"left","baseline":"middle","color":"#222"},"encoding":{"x":{"datum":8.61e-7,"type":"quantitative","axis":null},"y":{"datum":708000,"type":"quantitative","axis":null}}},
{"data":{"values":[{}]},"mark":{"type":"text","text":"H1 and ZEUS","font":"Liberation Mono","fontWeight":"bold","fontSize":11,"align":"left","baseline":"middle","color":"#222"},"encoding":{"x":{"datum":8.61e-7,"type":"quantitative","axis":null},"y":{"datum":126000,"type":"quantitative","axis":null}}},
{"data":{"values":[{}]},"mark":{"type":"text","text":"NMC","font":"Liberation Mono","fontWeight":"bold","fontSize":11,"align":"left","baseline":"middle","color":"#222"},"encoding":{"x":{"datum":8.61e-7,"type":"quantitative","axis":null},"y":{"datum":23500,"type":"quantitative","axis":null}}},
{"data":{"values":[{}]},"mark":{"type":"text","text":"BCDMS","font":"Liberation Mono","fontWeight":"bold","fontSize":11,"align":"left","baseline":"middle","color":"#222"},"encoding":{"x":{"datum":8.61e-7,"type":"quantitative","axis":null},"y":{"datum":9940,"type":"quantitative","axis":null}}},
{"data":{"values":[{}]},"mark":{"type":"text","text":"E665","font":"Liberation Mono","fontWeight":"bold","fontSize":11,"align":"left","baseline":"middle","color":"#222"},"encoding":{"x":{"datum":8.61e-7,"type":"quantitative","axis":null},"y":{"datum":4380,"type":"quantitative","axis":null}}},
{"data":{"values":[{}]},"mark":{"type":"text","text":"SLAC","font":"Liberation Mono","fontWeight":"bold","fontSize":11,"align":"left","baseline":"middle","color":"#222"},"encoding":{"x":{"datum":8.61e-7,"type":"quantitative","axis":null},"y":{"datum":1930,"type":"quantitative","axis":null}}},
{"data":{"values":[{}]},"mark":{"type":"text","text":"(a)","font":"Liberation Serif","fontSize":40,"align":"left","baseline":"middle","color":"#000"},"encoding":{"x":{"datum":2.53e-7,"type":"quantitative","axis":null},"y":{"datum":75.7,"type":"quantitative","axis":null}}}
]
},
{
"width":409,"height":432,
"resolve":{"axis":{"x":"independent","y":"independent"}},
"layer":[
{"data":{"name":"hera"},"mark":{"type":"line","interpolate":"linear-closed","stroke":"transparent","fill":{"gradient":"linear","x1":0,"y1":1,"x2":1,"y2":0,"stops":[
{"offset":0,"color":"#f22"},{"offset":0.005,"color":"#fff"},{"offset":0.01,"color":"#f22"},{"offset":0.015,"color":"#fff"},{"offset":0.02,"color":"#f22"},{"offset":0.025,"color":"#fff"},{"offset":0.03,"color":"#f22"},{"offset":0.035,"color":"#fff"},{"offset":0.04,"color":"#f22"},{"offset":0.045,"color":"#fff"},{"offset":0.05,"color":"#f22"},{"offset":0.055,"color":"#fff"},{"offset":0.06,"color":"#f22"},{"offset":0.065,"color":"#fff"},{"offset":0.07,"color":"#f22"},{"offset":0.075,"color":"#fff"},{"offset":0.08,"color":"#f22"},{"offset":0.085,"color":"#fff"},{"offset":0.09,"color":"#f22"},{"offset":0.095,"color":"#fff"},
{"offset":0.1,"color":"#f22"},{"offset":0.105,"color":"#fff"},{"offset":0.11,"color":"#f22"},{"offset":0.115,"color":"#fff"},{"offset":0.12,"color":"#f22"},{"offset":0.125,"color":"#fff"},{"offset":0.13,"color":"#f22"},{"offset":0.135,"color":"#fff"},{"offset":0.14,"color":"#f22"},{"offset":0.145,"color":"#fff"},{"offset":0.15,"color":"#f22"},{"offset":0.155,"color":"#fff"},{"offset":0.16,"color":"#f22"},{"offset":0.165,"color":"#fff"},{"offset":0.17,"color":"#f22"},{"offset":0.175,"color":"#fff"},{"offset":0.18,"color":"#f22"},{"offset":0.185,"color":"#fff"},{"offset":0.19,"color":"#f22"},{"offset":0.195,"color":"#fff"},
{"offset":0.2,"color":"#f22"},{"offset":0.205,"color":"#fff"},{"offset":0.21,"color":"#f22"},{"offset":0.215,"color":"#fff"},{"offset":0.22,"color":"#f22"},{"offset":0.225,"color":"#fff"},{"offset":0.23,"color":"#f22"},{"offset":0.235,"color":"#fff"},{"offset":0.24,"color":"#f22"},{"offset":0.245,"color":"#fff"},{"offset":0.25,"color":"#f22"},{"offset":0.255,"color":"#fff"},{"offset":0.26,"color":"#f22"},{"offset":0.265,"color":"#fff"},{"offset":0.27,"color":"#f22"},{"offset":0.275,"color":"#fff"},{"offset":0.28,"color":"#f22"},{"offset":0.285,"color":"#fff"},{"offset":0.29,"color":"#f22"},{"offset":0.295,"color":"#fff"},
{"offset":0.3,"color":"#f22"},{"offset":0.305,"color":"#fff"},{"offset":0.31,"color":"#f22"},{"offset":0.315,"color":"#fff"},{"offset":0.32,"color":"#f22"},{"offset":0.325,"color":"#fff"},{"offset":0.33,"color":"#f22"},{"offset":0.335,"color":"#fff"},{"offset":0.34,"color":"#f22"},{"offset":0.345,"color":"#fff"},{"offset":0.35,"color":"#f22"},{"offset":0.355,"color":"#fff"},{"offset":0.36,"color":"#f22"},{"offset":0.365,"color":"#fff"},{"offset":0.37,"color":"#f22"},{"offset":0.375,"color":"#fff"},{"offset":0.38,"color":"#f22"},{"offset":0.385,"color":"#fff"},{"offset":0.39,"color":"#f22"},{"offset":0.395,"color":"#fff"},
{"offset":0.4,"color":"#f22"},{"offset":0.405,"color":"#fff"},{"offset":0.41,"color":"#f22"},{"offset":0.415,"color":"#fff"},{"offset":0.42,"color":"#f22"},{"offset":0.425,"color":"#fff"},{"offset":0.43,"color":"#f22"},{"offset":0.435,"color":"#fff"},{"offset":0.44,"color":"#f22"},{"offset":0.445,"color":"#fff"},{"offset":0.45,"color":"#f22"},{"offset":0.455,"color":"#fff"},{"offset":0.46,"color":"#f22"},{"offset":0.465,"color":"#fff"},{"offset":0.47,"color":"#f22"},{"offset":0.475,"color":"#fff"},{"offset":0.48,"color":"#f22"},{"offset":0.485,"color":"#fff"},{"offset":0.49,"color":"#f22"},{"offset":0.495,"color":"#fff"},
{"offset":0.5,"color":"#f22"},{"offset":0.505,"color":"#fff"},{"offset":0.51,"color":"#f22"},{"offset":0.515,"color":"#fff"},{"offset":0.52,"color":"#f22"},{"offset":0.525,"color":"#fff"},{"offset":0.53,"color":"#f22"},{"offset":0.535,"color":"#fff"},{"offset":0.54,"color":"#f22"},{"offset":0.545,"color":"#fff"},{"offset":0.55,"color":"#f22"},{"offset":0.555,"color":"#fff"},{"offset":0.56,"color":"#f22"},{"offset":0.565,"color":"#fff"},{"offset":0.57,"color":"#f22"},{"offset":0.575,"color":"#fff"},{"offset":0.58,"color":"#f22"},{"offset":0.585,"color":"#fff"},{"offset":0.59,"color":"#f22"},{"offset":0.595,"color":"#fff"},
{"offset":0.6,"color":"#f22"},{"offset":0.605,"color":"#fff"},{"offset":0.61,"color":"#f22"},{"offset":0.615,"color":"#fff"},{"offset":0.62,"color":"#f22"},{"offset":0.625,"color":"#fff"},{"offset":0.63,"color":"#f22"},{"offset":0.635,"color":"#fff"},{"offset":0.64,"color":"#f22"},{"offset":0.645,"color":"#fff"},{"offset":0.65,"color":"#f22"},{"offset":0.655,"color":"#fff"},{"offset":0.66,"color":"#f22"},{"offset":0.665,"color":"#fff"},{"offset":0.67,"color":"#f22"},{"offset":0.675,"color":"#fff"},{"offset":0.68,"color":"#f22"},{"offset":0.685,"color":"#fff"},{"offset":0.69,"color":"#f22"},{"offset":0.695,"color":"#fff"},
{"offset":0.7,"color":"#f22"},{"offset":0.705,"color":"#fff"},{"offset":0.71,"color":"#f22"},{"offset":0.715,"color":"#fff"},{"offset":0.72,"color":"#f22"},{"offset":0.725,"color":"#fff"},{"offset":0.73,"color":"#f22"},{"offset":0.735,"color":"#fff"},{"offset":0.74,"color":"#f22"},{"offset":0.745,"color":"#fff"},{"offset":0.75,"color":"#f22"},{"offset":0.755,"color":"#fff"},{"offset":0.76,"color":"#f22"},{"offset":0.765,"color":"#fff"},{"offset":0.77,"color":"#f22"},{"offset":0.775,"color":"#fff"},{"offset":0.78,"color":"#f22"},{"offset":0.785,"color":"#fff"},{"offset":0.79,"color":"#f22"},{"offset":0.795,"color":"#fff"},
{"offset":0.8,"color":"#f22"},{"offset":0.805,"color":"#fff"},{"offset":0.81,"color":"#f22"},{"offset":0.815,"color":"#fff"},{"offset":0.82,"color":"#f22"},{"offset":0.825,"color":"#fff"},{"offset":0.83,"color":"#f22"},{"offset":0.835,"color":"#fff"},{"offset":0.84,"color":"#f22"},{"offset":0.845,"color":"#fff"},{"offset":0.85,"color":"#f22"},{"offset":0.855,"color":"#fff"},{"offset":0.86,"color":"#f22"},{"offset":0.865,"color":"#fff"},{"offset":0.87,"color":"#f22"},{"offset":0.875,"color":"#fff"},{"offset":0.88,"color":"#f22"},{"offset":0.885,"color":"#fff"},{"offset":0.89,"color":"#f22"},{"offset":0.895,"color":"#fff"},
{"offset":0.9,"color":"#f22"},{"offset":0.905,"color":"#fff"},{"offset":0.91,"color":"#f22"},{"offset":0.915,"color":"#fff"},{"offset":0.92,"color":"#f22"},{"offset":0.925,"color":"#fff"},{"offset":0.93,"color":"#f22"},{"offset":0.935,"color":"#fff"},{"offset":0.94,"color":"#f22"},{"offset":0.945,"color":"#fff"},{"offset":0.95,"color":"#f22"},{"offset":0.955,"color":"#fff"},{"offset":0.96,"color":"#f22"},{"offset":0.965,"color":"#fff"},{"offset":0.97,"color":"#f22"},{"offset":0.975,"color":"#fff"},{"offset":0.98,"color":"#f22"},{"offset":0.985,"color":"#fff"},{"offset":0.99,"color":"#f22"},{"offset":0.995,"color":"#fff"},{"offset":1,"color":"#f22"}]}},
"encoding":{
"x":{"field":"x","type":"quantitative","scale":{"type":"log","domain":[4.955e-8,0.001],"nice":false},
"axis":{"orient":"bottom","values":[5e-8,6e-8,7e-8,8e-8,9e-8,1e-7,2e-7,3e-7,4e-7,5e-7,6e-7,7e-7,8e-7,9e-7,1e-6,2e-6,3e-6,4e-6,5e-6,6e-6,7e-6,8e-6,9e-6,1e-5,2e-5,3e-5,4e-5,5e-5,6e-5,7e-5,8e-5,9e-5,1e-4,2e-4,3e-4,4e-4,5e-4,6e-4,7e-4,8e-4,9e-4,0.001],
"labelExpr":"abs(log(datum.value)/LN10-round(log(datum.value)/LN10))<0.01 ? ['10⁻⁷','10⁻⁶','10⁻⁵','10⁻⁴',''][round(log(datum.value)/LN10)+7] : ''",
"tickSize":{"condition":{"test":"abs(log(datum.value)/LN10-round(log(datum.value)/LN10))<0.01","value":-8},"value":-4},
"labelPadding":14,"labelFont":"Liberation Sans","labelFontSize":13,"labelFontWeight":"bold",
"title":"x","titleFont":"Liberation Sans","titleFontSize":20,"titleFontWeight":"bold","titleX":402,"titleY":45,"titleAlign":"center","titleBaseline":"alphabetic"}},
"y":{"field":"q","type":"quantitative","scale":{"type":"log","domain":[0.1,1000],"nice":false},
"axis":{"orient":"left","values":[0.1,0.2,0.3,0.4,0.5,0.6,0.7,0.8,0.9,1,2,3,4,5,6,7,8,9,10,20,30,40,50,60,70,80,90,100,200,300,400,500,600,700,800,900,1000],
"labelExpr":"abs(log(datum.value)/LN10-round(log(datum.value)/LN10))<0.01 ? ['10⁻¹','1','10','10²','10³'][round(log(datum.value)/LN10)+1] : ''",
"tickSize":{"condition":{"test":"abs(log(datum.value)/LN10-round(log(datum.value)/LN10))<0.01","value":-8},"value":-4},
"labelPadding":14,"labelFont":"Liberation Sans","labelFontSize":13,"labelFontWeight":"bold",
"title":"Q² / GeV²","titleFont":"Liberation Sans","titleFontSize":22,"titleFontWeight":"bold","titleX":-75,"titleY":43,"titleAngle":270,"titleAlign":"center","titleBaseline":"middle"}},
"order":{"field":"i"}}},
{"data":{"name":"curves"},"mark":{"type":"line","interpolate":"monotone","color":"#000","strokeWidth":1,"clip":true},
"encoding":{"x":{"field":"x","type":"quantitative","axis":{"orient":"top","ticks":false,"labels":false,"title":null,"domain":true}},"y":{"field":"q","type":"quantitative","axis":null},"detail":{"field":"c"}}},
{"data":{"values":[{}]},"mark":{"type":"rect","stroke":"transparent","fill":{"gradient":"linear","x1":0,"y1":1,"x2":0.875,"y2":-0.1,"stops":[{"offset":0,"color":"#f22"},{"offset":0.025,"color":"#fff"},{"offset":0.05,"color":"#f22"},{"offset":0.075,"color":"#fff"},{"offset":0.1,"color":"#f22"},{"offset":0.125,"color":"#fff"},{"offset":0.15,"color":"#f22"},{"offset":0.175,"color":"#fff"},{"offset":0.2,"color":"#f22"},{"offset":0.225,"color":"#fff"},{"offset":0.25,"color":"#f22"},{"offset":0.275,"color":"#fff"},{"offset":0.3,"color":"#f22"},{"offset":0.325,"color":"#fff"},{"offset":0.35,"color":"#f22"},{"offset":0.375,"color":"#fff"},{"offset":0.4,"color":"#f22"},{"offset":0.425,"color":"#fff"},{"offset":0.45,"color":"#f22"},{"offset":0.475,"color":"#fff"},{"offset":0.5,"color":"#f22"},{"offset":0.525,"color":"#fff"},{"offset":0.55,"color":"#f22"},{"offset":0.575,"color":"#fff"},{"offset":0.6,"color":"#f22"},{"offset":0.625,"color":"#fff"},{"offset":0.65,"color":"#f22"},{"offset":0.675,"color":"#fff"},{"offset":0.7,"color":"#f22"},{"offset":0.725,"color":"#fff"},{"offset":0.75,"color":"#f22"},{"offset":0.775,"color":"#fff"},{"offset":0.8,"color":"#f22"},{"offset":0.825,"color":"#fff"},{"offset":0.85,"color":"#f22"},{"offset":0.875,"color":"#fff"},{"offset":0.9,"color":"#f22"},{"offset":0.925,"color":"#fff"},{"offset":0.95,"color":"#f22"},{"offset":0.975,"color":"#fff"},{"offset":1,"color":"#f22"}]}},
"encoding":{"x":{"datum":9.76e-8,"type":"quantitative","axis":null},"x2":{"datum":2.28e-7},"y":{"datum":250,"type":"quantitative","axis":null},"y2":{"datum":97.9}}},
{"data":{"values":[{}]},"mark":{"type":"text","text":"LHeC, Ep = 7 TeV, Ee = 70 GeV","font":"Liberation Sans","fontWeight":"bold","fontSize":23,"align":"left","baseline":"middle","color":"#000"},"encoding":{"x":{"datum":1e-7,"type":"quantitative","axis":null},"y":{"datum":574,"type":"quantitative","axis":null}}},
{"data":{"values":[{}]},"mark":{"type":"text","text":"HERA","font":"Liberation Sans","fontWeight":"bold","fontSize":23,"align":"left","baseline":"middle","color":"#000"},"encoding":{"x":{"datum":2.64e-7,"type":"quantitative","axis":null},"y":{"datum":143.6,"type":"quantitative","axis":null}}},
{"data":{"values":[{}]},"mark":{"type":"text","text":"y = 1","font":"Liberation Sans","fontWeight":"bold","fontSize":23,"align":"left","baseline":"middle","color":"#000"},"encoding":{"x":{"datum":4.84e-5,"type":"quantitative","axis":null},"y":{"datum":225,"type":"quantitative","axis":null}}},
{"data":{"values":[{}]},"mark":{"type":"text","text":"θ","font":"Liberation Serif","fontSize":25,"align":"left","baseline":"middle","color":"#000"},"encoding":{"x":{"datum":7.66e-5,"type":"quantitative","axis":null},"y":{"datum":93.8,"type":"quantitative","axis":null}}},
{"data":{"values":[{}]},"mark":{"type":"text","text":"e","font":"Liberation Sans","fontWeight":"bold","fontSize":15,"align":"left","baseline":"middle","color":"#000"},"encoding":{"x":{"datum":1.05e-4,"type":"quantitative","axis":null},"y":{"datum":77.4,"type":"quantitative","axis":null}}},
{"data":{"values":[{}]},"mark":{"type":"text","text":"= 170°","font":"Liberation Sans","fontWeight":"bold","fontSize":23,"align":"left","baseline":"middle","color":"#000"},"encoding":{"x":{"datum":1.51e-4,"type":"quantitative","axis":null},"y":{"datum":100,"type":"quantitative","axis":null}}},
{"data":{"values":[{}]},"mark":{"type":"text","text":"θ","font":"Liberation Serif","fontSize":25,"align":"left","baseline":"middle","color":"#000"},"encoding":{"x":{"datum":1.51e-6,"type":"quantitative","axis":null},"y":{"datum":1.377,"type":"quantitative","axis":null}}},
{"data":{"values":[{}]},"mark":{"type":"text","text":"e","font":"Liberation Sans","fontWeight":"bold","fontSize":15,"align":"left","baseline":"middle","color":"#000"},"encoding":{"x":{"datum":2.17e-6,"type":"quantitative","axis":null},"y":{"datum":1.137,"type":"quantitative","axis":null}}},
{"data":{"values":[{}]},"mark":{"type":"text","text":"= 179°","font":"Liberation Sans","fontWeight":"bold","fontSize":23,"align":"left","baseline":"middle","color":"#000"},"encoding":{"x":{"datum":2.64e-6,"type":"quantitative","axis":null},"y":{"datum":1.468,"type":"quantitative","axis":null}}},
{"data":{"values":[{}]},"mark":{"type":"text","text":"y = 0.01","font":"Liberation Sans","fontWeight":"bold","fontSize":23,"align":"left","baseline":"middle","color":"#000"},"encoding":{"x":{"datum":2.45e-6,"type":"quantitative","axis":null},"y":{"datum":0.15,"type":"quantitative","axis":null}}},
{"data":{"values":[{}]},"mark":{"type":"text","text":"(b)","font":"Liberation Serif","fontSize":40,"align":"left","baseline":"middle","color":"#000"},"encoding":{"x":{"datum":1e-7,"type":"quantitative","axis":null},"y":{"datum":3.83,"type":"quantitative","axis":null}}}
]
}
]
}
